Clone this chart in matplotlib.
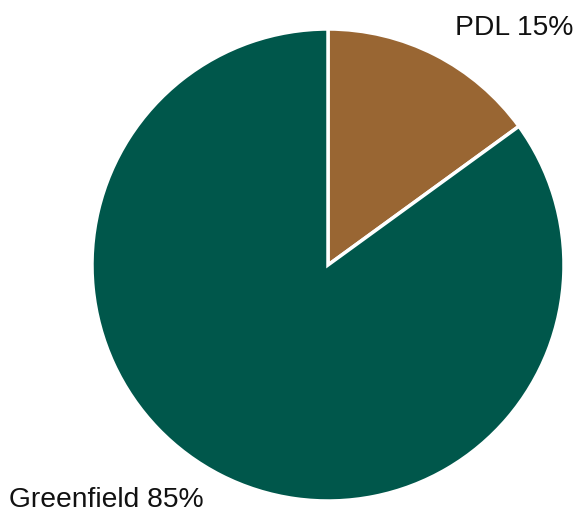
import matplotlib
matplotlib.use("Agg")
import matplotlib.pyplot as plt

categories = ["PDL", "Greenfield"]
values = [15, 85]
colors = ["#996633", "#00574B"]

fig = plt.figure(figsize=(5.74, 5.14), dpi=100)
ax = fig.add_axes([0, 0, 1, 1])

ax.pie(values, colors=colors, startangle=90, counterclock=False,
       center=(328, 249), radius=236, frame=True,
       wedgeprops=dict(edgecolor="white", linewidth=2.5))
ax.set_xlim(0, 574)
ax.set_ylim(0, 514)
ax.set_aspect("equal")
ax.axis("off")

font = dict(family=["Liberation Sans", "DejaVu Sans"], fontsize=20.3, color="#111111")
ax.text(455, 486, f"{categories[0]} {values[0]}%", ha="left", va="center", **font)
ax.text(9, 14, f"{categories[1]} {values[1]}%", ha="left", va="center", **font)

fig.savefig("out.png", dpi=100, facecolor="white")
